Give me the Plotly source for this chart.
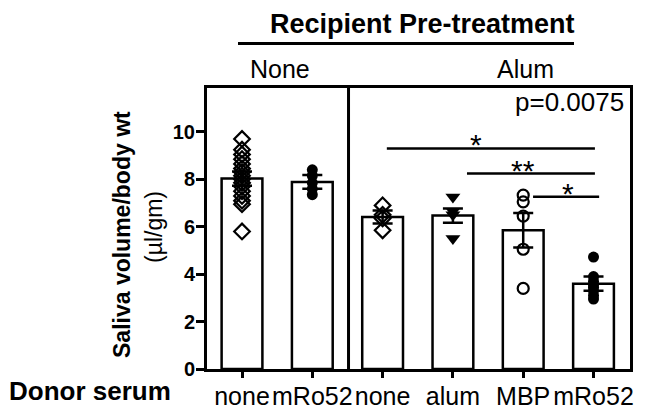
import plotly.graph_objects as go

# ---- data ----
categories = ["none", "mRo52", "none", "alum", "MBP", "mRo52"]
means = [8.03, 7.89, 6.41, 6.47, 5.85, 3.60]
sems = [0.30, 0.29, 0.27, 0.30, 0.73, 0.30]
points = [
    [9.7, 9.25, 9.05, 8.85, 8.65, 8.45, 8.3, 8.15, 8.0, 7.85, 7.7, 7.5, 7.3, 7.1, 6.95, 5.8],
    [8.4, 8.15, 7.85, 7.6, 7.35],
    [6.9, 6.5, 6.35, 5.85],
    [7.25, 6.65, 6.5, 5.5],
    [7.33, 7.05, 6.45, 5.05, 3.4],
    [4.72, 3.9, 3.7, 3.55, 3.45, 3.3, 3.1, 2.95],
]
symbols = ["diamond-open", "circle", "diamond-open", "triangle-down", "circle-open", "circle"]
y_ticks = [0, 2, 4, 6, 8, 10]
# significance bars: start x, end x, y level, star x, label
sig_x0 = [2.06, 3.2, 4.14]
sig_x1 = [5.02, 5.02, 5.08]
sig_y = [9.3, 8.24, 7.26]
sig_star_x = [3.33, 3.99, 4.64]
sig_labels = ["*", "**", "*"]
p_text = "p=0.0075"

W, H = 649, 412
ML, MR, MT, MB = 207, 19, 88, 43
PW, PH = W - ML - MR, H - MT - MB
FONT = "Arial, Liberation Sans, sans-serif"

def px(x):
    return (x - ML) / PW

def py(y):
    return (H - MB - y) / PH

xs = list(range(len(categories)))

fig = go.Figure()
fig.add_trace(go.Bar(
    x=xs, y=means, width=0.58,
    marker=dict(color="white", line=dict(color="black", width=2.5)),
    showlegend=False, hoverinfo="skip",
))
for i, pts in enumerate(points):
    open_sym = "open" in symbols[i]
    size = 12 if "diamond" in symbols[i] else (13 if "triangle" in symbols[i] else 11)
    fig.add_trace(go.Scatter(
        x=[i] * len(pts), y=pts, mode="markers",
        marker=dict(symbol=symbols[i], size=size,
                    color="black", line=dict(color="black", width=2.2 if open_sym else 0)),
        showlegend=False, hoverinfo="skip",
    ))
fig.add_trace(go.Scatter(
    x=xs, y=means, mode="markers", marker=dict(size=0.1, color="rgba(0,0,0,0)"),
    error_y=dict(type="data", array=sems, visible=True, color="black", thickness=2.5, width=10),
    showlegend=False, hoverinfo="skip",
))

shapes = []
annotations = []
# divider between groups
shapes.append(dict(type="line", xref="x", yref="paper", x0=1.515, x1=1.515, y0=0, y1=1,
                   line=dict(color="black", width=3)))
# significance bars
for x0, x1, yv, sx, lab in zip(sig_x0, sig_x1, sig_y, sig_star_x, sig_labels):
    shapes.append(dict(type="line", xref="x", yref="y", x0=x0, x1=x1, y0=yv, y1=yv,
                       line=dict(color="black", width=2.5)))
    annotations.append(dict(x=sx, y=yv, xref="x", yref="y",
                            text=lab, showarrow=False, yanchor="bottom", yshift=-15,
                            font=dict(family=FONT, size=30, color="black")))
# p value
annotations.append(dict(x=px(626), y=py(102), xref="paper", yref="paper", text=p_text,
                        showarrow=False, xanchor="right", yanchor="middle",
                        font=dict(family=FONT, size=26, color="black")))
# group labels
annotations.append(dict(x=px(280), y=py(69), xref="paper", yref="paper", text="None",
                        showarrow=False, xanchor="center", yanchor="middle",
                        font=dict(family=FONT, size=25, color="black")))
annotations.append(dict(x=px(525), y=py(69), xref="paper", yref="paper", text="Alum",
                        showarrow=False, xanchor="center", yanchor="middle",
                        font=dict(family=FONT, size=25, color="black")))
annotations.append(dict(x=px(422), y=py(24), xref="paper", yref="paper",
                        text="<b>Recipient Pre-treatment</b>",
                        showarrow=False, xanchor="center", yanchor="middle",
                        font=dict(family=FONT, size=27, color="black")))
shapes.append(dict(type="line", xref="paper", yref="paper", x0=px(238), x1=px(574),
                   y0=py(43.5), y1=py(43.5), line=dict(color="black", width=3)))
# y axis title
annotations.append(dict(x=px(122), y=py(235), xref="paper", yref="paper",
                        text="<b>Saliva volume/body wt</b>", textangle=-90,
                        showarrow=False, xanchor="center", yanchor="middle",
                        font=dict(family=FONT, size=23, color="black")))
annotations.append(dict(x=px(154), y=py(227), xref="paper", yref="paper",
                        text="(µl/gm)", textangle=-90,
                        showarrow=False, xanchor="center", yanchor="middle",
                        font=dict(family=FONT, size=23, color="black")))
# donor serum
annotations.append(dict(x=px(7), y=py(391), xref="paper", yref="paper",
                        text="<b>Donor serum</b>",
                        showarrow=False, xanchor="left", yanchor="middle",
                        font=dict(family=FONT, size=26, color="black")))

fig.update_layout(
    width=W, height=H, autosize=False,
    margin=dict(l=ML, r=MR, t=MT, b=MB, pad=0),
    paper_bgcolor="white", plot_bgcolor="white",
    shapes=shapes, annotations=annotations,
    xaxis=dict(range=[-0.498, 5.519], tickmode="array", tickvals=xs, ticktext=categories,
               showline=True, linecolor="black", linewidth=3, mirror=True,
               ticks="outside", ticklen=6, tickwidth=2.5, tickcolor="black",
               tickangle=0, automargin=False, ticklabelstandoff=-3,
               tickfont=dict(family=FONT, size=25, color="black"),
               showgrid=False, zeroline=False, fixedrange=True),
    yaxis=dict(range=[0, 11.85], tickmode="array", tickvals=y_ticks,
               showline=True, linecolor="black", linewidth=3, mirror=True,
               ticks="outside", ticklen=8, tickwidth=2.5, tickcolor="black",
               automargin=False, ticklabelstandoff=-3,
               tickfont=dict(family=FONT, size=20, color="black", weight="bold"),
               showgrid=False, zeroline=False, fixedrange=True),
    font=dict(family=FONT, color="black"),
)
fig.write_html("out.html", config={"displayModeBar": False},
               post_script="document.body.style.margin='0';")
